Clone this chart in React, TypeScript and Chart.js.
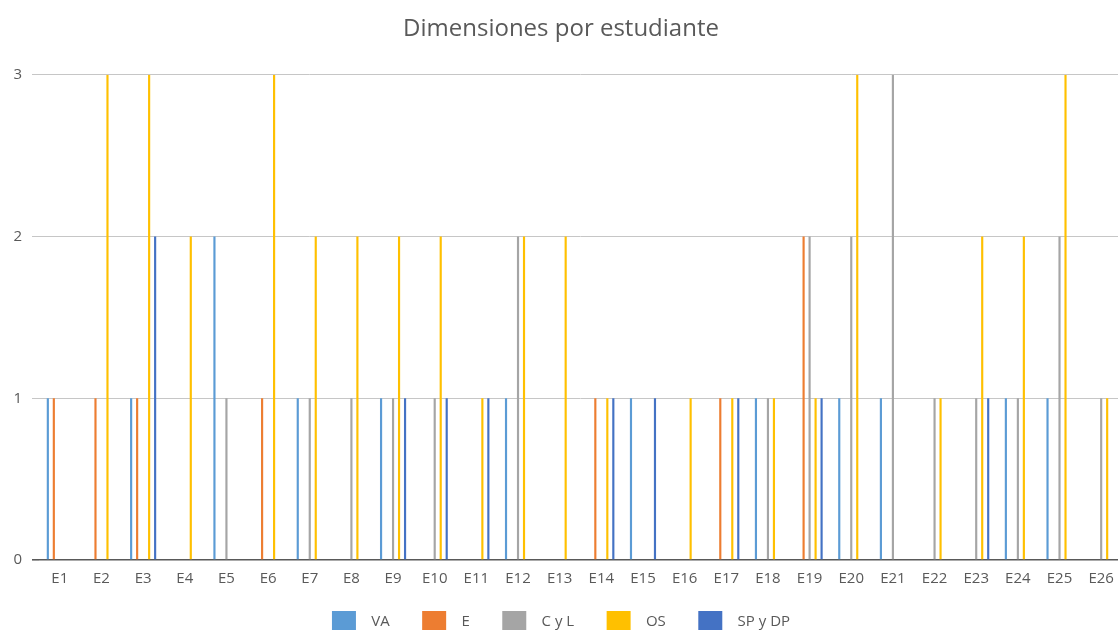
import React, { useEffect, useRef } from "react";
import { Chart, registerables } from "chart.js";

Chart.register(...registerables);

const categories = [
  "E1", "E2", "E3", "E4", "E5", "E6", "E7", "E8", "E9", "E10", "E11", "E12", "E13",
  "E14", "E15", "E16", "E17", "E18", "E19", "E20", "E21", "E22", "E23", "E24", "E25", "E26",
];

const seriesNames = ["VA", "E", "C y L", "OS", "SP y DP"];

const vaValues = [1, 0, 1, 0, 2, 0, 1, 0, 1, 0, 0, 1, 0, 0, 1, 0, 0, 1, 0, 1, 1, 0, 0, 1, 1, 0];
const eValues = [1, 1, 1, 0, 0, 1, 0, 0, 0, 0, 0, 0, 0, 1, 0, 0, 1, 0, 2, 0, 0, 0, 0, 0, 0, 0];
const cylValues = [0, 0, 0, 0, 1, 0, 1, 1, 1, 1, 0, 2, 0, 0, 0, 0, 0, 1, 2, 2, 3, 1, 1, 1, 2, 1];
const osValues = [0, 3, 3, 2, 0, 3, 2, 2, 2, 2, 1, 2, 2, 1, 0, 1, 1, 1, 1, 3, 0, 1, 2, 2, 3, 1];
const spdpValues = [0, 0, 2, 0, 0, 0, 0, 0, 1, 1, 1, 0, 0, 1, 1, 0, 1, 0, 1, 0, 0, 0, 1, 0, 0, 0];

const yTicks = [0, 1, 2, 3];

const colors = ["#5B9BD5", "#ED7D31", "#A5A5A5", "#FFC000", "#4472C4"];

const FONT = "'Open Sans', 'Noto Sans', sans-serif";

export default function App() {
  const canvasRef = useRef<HTMLCanvasElement | null>(null);

  useEffect(() => {
    document.body.style.margin = "0";
    document.body.style.overflow = "hidden";
    const canvas = canvasRef.current;
    if (!canvas) return;
    const allValues = [vaValues, eValues, cylValues, osValues, spdpValues];
    const chart = new Chart(canvas, {
      type: "bar",
      data: {
        labels: categories,
        datasets: seriesNames.map((name, i) => ({
          label: name,
          data: allValues[i],
          backgroundColor: colors[i],
          borderWidth: 0,
          categoryPercentage: 0.72,
          barPercentage: 0.36,
        })),
      },
      options: {
        responsive: false,
        animation: false,
        maintainAspectRatio: false,
        layout: { padding: { left: 0, right: 2, top: 0, bottom: 0 } },
        plugins: {
          tooltip: { enabled: false },
          title: {
            display: true,
            text: "Dimensiones por estudiante",
            color: "#595959",
            font: { family: FONT, size: 24, weight: "normal" },
            padding: { top: 15, bottom: 31 },
          },
          legend: {
            position: "bottom",
            labels: {
              boxWidth: 24,
              boxHeight: 21,
              padding: 13,
              color: "#595959",
              font: { family: FONT, size: 15 },
              generateLabels: (chart: any) => {
                const items = Chart.defaults.plugins.legend.labels.generateLabels(chart);
                return items.map((l: any, i: number) => ({
                  ...l,
                  text: "  " + l.text + (i < items.length - 1 ? "     " : ""),
                  lineWidth: 0,
                }));
              },
            },
          },
        },
        scales: {
          x: {
            grid: { display: false, drawTicks: false },
            border: { display: false },
            ticks: {
              color: "#595959",
              font: { family: FONT, size: 15 },
              padding: 10,
              maxRotation: 0,
              autoSkip: false,
            },
          },
          y: {
            min: 0,
            max: 3,
            afterBuildTicks: (scale: any) => {
              scale.ticks = yTicks.map((v) => ({ value: v }));
            },
            afterFit: (scale: any) => {
              scale.width = 39;
            },
            border: { display: false },
            grid: {
              drawTicks: true,
              tickLength: 7,
              color: (ctx: any) => (ctx.tick && ctx.tick.value === 0 ? "#595959" : "#C6C6C6"),
              lineWidth: (ctx: any) => (ctx.tick && ctx.tick.value === 0 ? 1.6 : 1),
            },
            ticks: {
              color: "#595959",
              font: { family: FONT, size: 15 },
              padding: 10,
            },
          },
        },
      },
    });
    return () => chart.destroy();
  }, []);

  return (
    <div style={{ position: "fixed", left: 0, top: 0, width: 1118, height: 630, overflow: "hidden", background: "#fff" }}>
      <canvas ref={canvasRef} width={1124} height={642} style={{ width: 1124, height: 642, display: "block" }} />
    </div>
  );
}
